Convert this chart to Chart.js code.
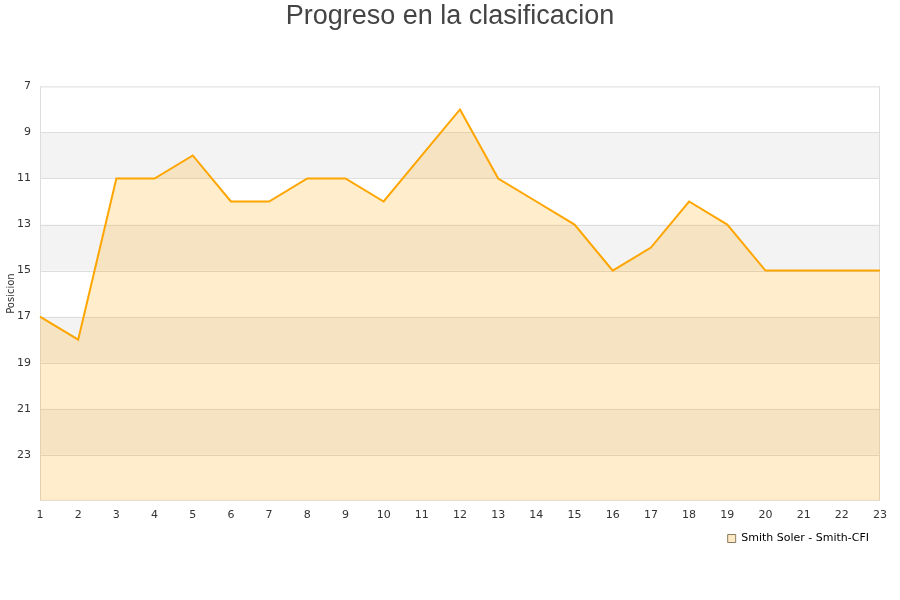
<!DOCTYPE html>
<html>
<head>
<meta charset="utf-8">
<script src="https://cdn.jsdelivr.net/npm/chart.js@4"></script>
<style>
  html, body { margin: 0; padding: 0; background: #fff; }
  #wrap { width: 900px; height: 600px; }
</style>
</head>
<body>
<div id="wrap"><canvas id="myChart"></canvas></div>
<script>
const jornadas = ['1', '2', '3', '4', '5', '6', '7', '8', '9', '10', '11', '12',
    '13', '14', '15', '16', '17', '18', '19', '20', '21', '22', '23'];
const posiciones = [17, 18, 11, 11, 10, 12, 12, 11, 11, 12, 10, 8,
    11, 12, 13, 15, 14, 12, 13, 15, 15, 15, 15];
const serieNombre = 'Smith Soler - Smith-CFI';
const bandas = [9, 13, 17, 21]; // start of each grey band, 2 positions tall

// grey striped bands and the outer frame of the plot
const bandPlugin = {
    id: 'bandas',
    beforeDatasetsDraw(chart) {
        const { ctx, chartArea, scales } = chart;
        ctx.save();
        ctx.fillStyle = '#f3f3f3';
        bandas.forEach(b => {
            const y1 = scales.y.getPixelForValue(b);
            const y2 = scales.y.getPixelForValue(b + 2);
            ctx.fillRect(chartArea.left, y1, chartArea.right - chartArea.left, y2 - y1);
        });
        ctx.strokeStyle = '#dddddd';
        ctx.lineWidth = 1;
        bandas.concat([11, 15, 19, 23]).forEach(v => {
            const y = Math.round(scales.y.getPixelForValue(v)) + 0.5;
            ctx.beginPath();
            ctx.moveTo(chartArea.left, y);
            ctx.lineTo(chartArea.right, y);
            ctx.stroke();
        });
        ctx.strokeRect(chartArea.left + 0.5, chartArea.top + 0.5,
            chartArea.right - chartArea.left - 1, chartArea.bottom - chartArea.top - 1);
        ctx.restore();
    }
};

const ctx1 = document.getElementById('myChart');

new Chart(ctx1, {
    type: 'line',
    data: {
        labels: jornadas,
        datasets: [{
            label: serieNombre,
            data: posiciones,
            borderColor: '#ffa500',
            borderWidth: 2,
            backgroundColor: 'rgba(255,165,0,0.2)',
            fill: { value: 25 },
            pointRadius: 0,
            tension: 0
        }]
    },
    options: {
        responsive: true,
        maintainAspectRatio: false,
        animation: false,
        layout: { padding: { top: 0, right: 5, bottom: 46, left: 5 } },
        plugins: {
            title: {
                display: true,
                text: 'Progreso en la clasificacion',
                color: '#444444',
                font: { family: 'Liberation Sans', size: 27, weight: 'normal' },
                padding: { top: 0, bottom: 54 }
            },
            legend: {
                position: 'bottom',
                align: 'end',
                fullSize: false,
                labels: {
                    boxWidth: 8,
                    boxHeight: 8,
                    color: '#222',
                    font: { family: 'DejaVu Sans', size: 11 },
                    padding: 11,
                    generateLabels(chart) {
                        return [{
                            text: serieNombre,
                            fillStyle: '#fde9c5',
                            strokeStyle: '#8a7a60',
                            lineWidth: 1,
                            datasetIndex: 0
                        }];
                    }
                }
            },
            tooltip: { enabled: false }
        },
        scales: {
            x: {
                type: 'category',
                offset: false,
                grid: { display: false },
                border: { display: false },
                ticks: {
                    color: '#333',
                    font: { family: 'DejaVu Sans', size: 11 },
                    maxRotation: 0,
                    autoSkip: false,
                    padding: 0
                }
            },
            y: {
                reverse: true,
                min: 7,
                max: 25,
                grid: { display: false },
                border: { display: false },
                afterBuildTicks(scale) {
                    scale.ticks = [7, 9, 11, 13, 15, 17, 19, 21, 23].map(v => ({ value: v }));
                },
                afterFit(scale) {
                    scale.width = 35;
                },
                ticks: {
                    color: '#333',
                    font: { family: 'DejaVu Sans', size: 11 },
                    padding: 1
                },
                title: {
                    display: true,
                    text: 'Posicion',
                    color: '#333',
                    font: { family: 'DejaVu Sans', size: 10 },
                    padding: 0
                }
            },
            derecha: {
                position: 'right',
                min: 7,
                max: 25,
                grid: { display: false },
                border: { display: false },
                ticks: { display: false },
                afterFit(scale) {
                    scale.width = 15;
                }
            }
        }
    },
    plugins: [bandPlugin]
});
</script>
</body>
</html>
